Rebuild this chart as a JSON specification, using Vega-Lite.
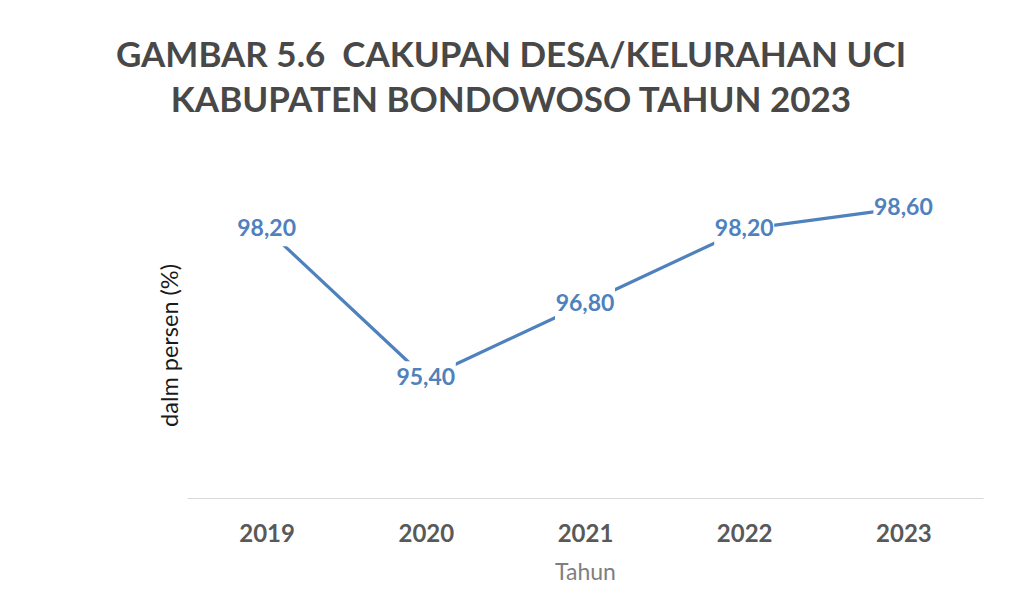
{
  "$schema": "https://vega.github.io/schema/vega-lite/v6.json",
  "width": 796,
  "height": 338,
  "autosize": {"type": "none"},
  "padding": {"left": 187, "top": 160, "right": 26, "bottom": 110},
  "background": "white",
  "config": {"view": {"stroke": null}, "font": "Lato"},
  "title": {
    "text": ["GAMBAR 5.6 \u00a0CAKUPAN DESA/KELURAHAN UCI", "KABUPATEN BONDOWOSO TAHUN 2023"],
    "anchor": "middle",
    "frame": "group",
    "dx": -74,
    "offset": 41,
    "font": "Lato",
    "fontSize": 35,
    "fontWeight": "bold",
    "color": "#484848",
    "lineHeight": 45
  },
  "data": {
    "values": [
      {"tahun": "2019", "nilai": 98.2, "label": "98,20"},
      {"tahun": "2020", "nilai": 95.4, "label": "95,40"},
      {"tahun": "2021", "nilai": 96.8, "label": "96,80"},
      {"tahun": "2022", "nilai": 98.2, "label": "98,20"},
      {"tahun": "2023", "nilai": 98.6, "label": "98,60"}
    ]
  },
  "encoding": {
    "x": {
      "field": "tahun",
      "type": "ordinal",
      "scale": {"type": "point", "padding": 0.5},
      "axis": {
        "title": "Tahun",
        "labelAngle": 0,
        "ticks": false,
        "grid": false,
        "domainColor": "#d9d9d9",
        "domainWidth": 1.2,
        "labelFont": "Lato",
        "labelFontSize": 24,
        "labelFontWeight": "bold",
        "labelColor": "#595959",
        "labelPadding": 24,
        "titleFont": "Lato",
        "titleFontSize": 23,
        "titleFontWeight": "normal",
        "titleColor": "#7f7f7f",
        "titlePadding": 15
      }
    },
    "y": {
      "field": "nilai",
      "type": "quantitative",
      "scale": {"domain": [93.15, 99.5], "nice": false, "zero": false},
      "axis": {
        "title": "dalm persen (%)",
        "labels": false,
        "ticks": false,
        "domain": false,
        "grid": false,
        "titleFont": "Lato",
        "titleFontSize": 23.5,
        "titleFontWeight": "normal",
        "titleColor": "#1a1a1a",
        "titlePadding": 5,
        "titleY": 185
      }
    }
  },
  "layer": [
    {
      "mark": {"type": "line", "color": "#4F81BD", "strokeWidth": 3.2}
    },
    {
      "mark": {
        "type": "point",
        "shape": "M-1,-0.57L1,-0.57L1,0.57L-1,0.57Z",
        "size": 3600,
        "filled": true,
        "fill": "white",
        "opacity": 1,
        "strokeWidth": 0
      }
    },
    {
      "mark": {
        "type": "text",
        "font": "Lato",
        "fontSize": 23,
        "fontWeight": "bold",
        "color": "#4F81BD",
        "align": "center",
        "baseline": "middle"
      },
      "encoding": {"text": {"field": "label"}}
    }
  ]
}
